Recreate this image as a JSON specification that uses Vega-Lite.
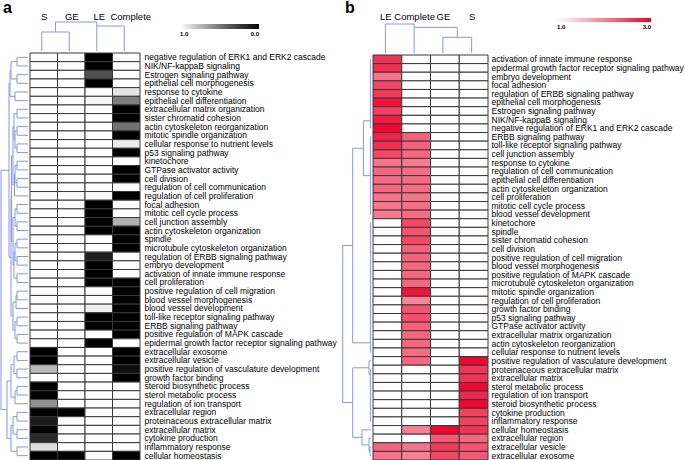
{
  "$schema": "https://vega.github.io/schema/vega-lite/v6.json",
  "padding": 0,
  "background": "white",
  "spacing": 5,
  "resolve": {"scale": {"color": "independent"}, "legend": {"color": "independent"}},
  "config": {
    "view": {"stroke": null},
    "font": "Liberation Sans",
    "concat": {"spacing": 0},
    "title": {"font": "Liberation Sans"},
    "axis": {"labelFont": "Liberation Sans"},
    "legend": {"labelFont": "Liberation Sans"}
  },
  "hconcat": [
    {
      "title": {"text": "a", "anchor": "start", "fontSize": 16, "fontWeight": "bold", "offset": -5, "dx": 3},
      "spacing": 0,
      "vconcat": [
        {
          "spacing": 0,
          "hconcat": [
            {"width": 28, "height": 30, "data": {"values": [{"k": 0}]}, "mark": {"type": "point", "opacity": 0}},
            {
              "width": 110, "height": 30,
              "data": {"values": [
                {"x1": 0.5, "x2": 0.5, "h1": 0, "h2": 19},
                {"x1": 1.5, "x2": 1.5, "h1": 0, "h2": 19},
                {"x1": 0.5, "x2": 1.5, "h1": 19, "h2": 19},
                {"x1": 1.0, "x2": 1.0, "h1": 19, "h2": 29},
                {"x1": 1.0, "x2": 2.5, "h1": 29, "h2": 29},
                {"x1": 2.5, "x2": 2.5, "h1": 0, "h2": 29},
                {"x1": 2.5, "x2": 3.5, "h1": 25, "h2": 25},
                {"x1": 3.5, "x2": 3.5, "h1": 0, "h2": 25}
              ]},
              "mark": {"type": "rule", "color": "#8896e4", "strokeWidth": 1},
              "encoding": {
                "x": {"field": "x1", "type": "quantitative", "scale": {"domain": [0, 4], "nice": false},
                  "axis": {"orient": "top", "values": [0.5, 1.5, 2.5, 3.5], "labelExpr": "['S','GE','LE','Complete'][floor(datum.value)]", "ticks": false, "domain": false, "grid": false, "title": null, "labelFontSize": 9.5, "labelPadding": 0, "labelColor": "#000000", "labelOverlap": false, "labelFlush": false,
                    "labelOffset": {"condition": {"test": "datum.value > 3", "value": 6}, "value": 2}}},
                "x2": {"field": "x2"},
                "y": {"field": "h1", "type": "quantitative", "scale": {"domain": [0, 30], "nice": false}, "axis": null},
                "y2": {"field": "h2"}
              }
            }
          ]
        },
        {
          "spacing": 0,
          "hconcat": [
            {
              "width": 28, "height": 407,
              "data": {"values": [
                {"h": 11, "ya": 1, "yb": 2, "ha": 0, "hb": 0},
                {"h": 11, "ya": 3, "yb": 4, "ha": 0, "hb": 0},
                {"h": 17, "ya": 1.5, "yb": 3.5, "ha": 11, "hb": 11},
                {"h": 13, "ya": 5, "yb": 6, "ha": 0, "hb": 0},
                {"h": 18, "ya": 2.5, "yb": 5.5, "ha": 17, "hb": 13},
                {"h": 11, "ya": 7, "yb": 8, "ha": 0, "hb": 0},
                {"h": 11, "ya": 9, "yb": 10, "ha": 0, "hb": 0},
                {"h": 11, "ya": 11, "yb": 12, "ha": 0, "hb": 0},
                {"h": 13, "ya": 9.5, "yb": 11.5, "ha": 11, "hb": 11},
                {"h": 14, "ya": 7.5, "yb": 10.5, "ha": 11, "hb": 13},
                {"h": 11, "ya": 13, "yb": 14, "ha": 0, "hb": 0},
                {"h": 11, "ya": 15, "yb": 16, "ha": 0, "hb": 0},
                {"h": 13, "ya": 13.5, "yb": 15.5, "ha": 11, "hb": 11},
                {"h": 13.5, "ya": 14.5, "yb": 17, "ha": 13, "hb": 0},
                {"h": 15, "ya": 9.0, "yb": 15.75, "ha": 14, "hb": 13.5},
                {"h": 11, "ya": 18, "yb": 19, "ha": 0, "hb": 0},
                {"h": 11, "ya": 20, "yb": 21, "ha": 0, "hb": 0},
                {"h": 13, "ya": 18.5, "yb": 20.5, "ha": 11, "hb": 11},
                {"h": 11, "ya": 22, "yb": 23, "ha": 0, "hb": 0},
                {"h": 11, "ya": 24, "yb": 25, "ha": 0, "hb": 0},
                {"h": 13, "ya": 22.5, "yb": 24.5, "ha": 11, "hb": 11},
                {"h": 11, "ya": 26, "yb": 27, "ha": 0, "hb": 0},
                {"h": 14, "ya": 23.5, "yb": 26.5, "ha": 13, "hb": 11},
                {"h": 15, "ya": 19.5, "yb": 25, "ha": 13, "hb": 14},
                {"h": 16.5, "ya": 12.375, "yb": 22.25, "ha": 15, "hb": 15},
                {"h": 11, "ya": 28, "yb": 29, "ha": 0, "hb": 0},
                {"h": 12, "ya": 28.5, "yb": 30, "ha": 11, "hb": 0},
                {"h": 11, "ya": 31, "yb": 32, "ha": 0, "hb": 0},
                {"h": 11, "ya": 33, "yb": 34, "ha": 0, "hb": 0},
                {"h": 13, "ya": 31.5, "yb": 33.5, "ha": 11, "hb": 11},
                {"h": 15, "ya": 29.25, "yb": 32.5, "ha": 12, "hb": 13},
                {"h": 17, "ya": 17.3125, "yb": 30.875, "ha": 16.5, "hb": 15},
                {"h": 19, "ya": 4.0, "yb": 24.09, "ha": 18, "hb": 17},
                {"h": 11, "ya": 35, "yb": 36, "ha": 0, "hb": 0},
                {"h": 11, "ya": 37, "yb": 38, "ha": 0, "hb": 0},
                {"h": 14, "ya": 35.5, "yb": 37.5, "ha": 11, "hb": 11},
                {"h": 11, "ya": 39, "yb": 40, "ha": 0, "hb": 0},
                {"h": 13, "ya": 39.5, "yb": 41, "ha": 11, "hb": 0},
                {"h": 17, "ya": 36.5, "yb": 40.25, "ha": 14, "hb": 13},
                {"h": 11, "ya": 42, "yb": 43, "ha": 0, "hb": 0},
                {"h": 11, "ya": 44, "yb": 45, "ha": 0, "hb": 0},
                {"h": 15, "ya": 42.5, "yb": 44.5, "ha": 11, "hb": 11},
                {"h": 11, "ya": 46, "yb": 47, "ha": 0, "hb": 0},
                {"h": 17, "ya": 43.5, "yb": 46.5, "ha": 15, "hb": 11},
                {"h": 21, "ya": 38.375, "yb": 45, "ha": 17, "hb": 17},
                {"h": 27, "ya": 14.05, "yb": 41.69, "ha": 19, "hb": 21}
              ]},
              "layer": [
                {"mark": {"type": "rule", "color": "#8896e4", "strokeWidth": 1},
                  "encoding": {
                    "x": {"field": "h", "type": "quantitative", "scale": {"domain": [0, 28], "reverse": true, "nice": false}, "axis": null},
                    "y": {"field": "ya", "type": "quantitative", "scale": {"domain": [0.5, 47.5], "reverse": true, "nice": false, "zero": false}, "axis": null},
                    "y2": {"field": "yb"}}},
                {"mark": {"type": "rule", "color": "#8896e4", "strokeWidth": 1},
                  "encoding": {
                    "x": {"field": "ha", "type": "quantitative"},
                    "x2": {"field": "h"},
                    "y": {"field": "ya", "type": "quantitative"}}},
                {"mark": {"type": "rule", "color": "#8896e4", "strokeWidth": 1},
                  "encoding": {
                    "x": {"field": "hb", "type": "quantitative"},
                    "x2": {"field": "h"},
                    "y": {"field": "yb", "type": "quantitative"}}}
              ]
            },
            {
              "width": 110, "height": 407,
              "data": {"values": [
                {"term": "negative regulation of ERK1 and ERK2 cascade", "S": 1, "GE": 1, "LE": 0, "Complete": 1},
                {"term": "NIK/NF-kappaB signaling", "S": 1, "GE": 1, "LE": 0, "Complete": 1},
                {"term": "Estrogen signaling pathway", "S": 1, "GE": 1, "LE": 0.33, "Complete": 1},
                {"term": "epithelial cell morphogenesis", "S": 1, "GE": 1, "LE": 0, "Complete": 1},
                {"term": "response to cytokine", "S": 1, "GE": 1, "LE": 1, "Complete": 0.91},
                {"term": "epithelial cell differentiation", "S": 1, "GE": 1, "LE": 0.97, "Complete": 0.53},
                {"term": "extracellular matrix organization", "S": 1, "GE": 1, "LE": 1, "Complete": 0},
                {"term": "sister chromatid cohesion", "S": 1, "GE": 1, "LE": 1, "Complete": 0},
                {"term": "actin cytoskeleton reorganization", "S": 1, "GE": 1, "LE": 1, "Complete": 0.48},
                {"term": "mitotic spindle organization", "S": 1, "GE": 1, "LE": 1, "Complete": 0},
                {"term": "cellular response to nutrient levels", "S": 1, "GE": 1, "LE": 1, "Complete": 0.93},
                {"term": "p53 signaling pathway", "S": 1, "GE": 1, "LE": 1, "Complete": 0},
                {"term": "kinetochore", "S": 1, "GE": 1, "LE": 1, "Complete": 1},
                {"term": "GTPase activator activity", "S": 1, "GE": 1, "LE": 1, "Complete": 0},
                {"term": "cell division", "S": 1, "GE": 1, "LE": 1, "Complete": 0},
                {"term": "regulation of cell communication", "S": 1, "GE": 1, "LE": 1, "Complete": 1},
                {"term": "regulation of cell proliferation", "S": 1, "GE": 1, "LE": 1, "Complete": 0},
                {"term": "focal adhesion", "S": 1, "GE": 1, "LE": 0, "Complete": 1},
                {"term": "mitotic cell cycle process", "S": 1, "GE": 1, "LE": 0, "Complete": 1},
                {"term": "cell junction assembly", "S": 1, "GE": 1, "LE": 0, "Complete": 0.72},
                {"term": "actin cytoskeleton organization", "S": 1, "GE": 1, "LE": 0, "Complete": 0},
                {"term": "spindle", "S": 1, "GE": 1, "LE": 1, "Complete": 0},
                {"term": "microtubule cytoskeleton organization", "S": 1, "GE": 1, "LE": 1, "Complete": 0},
                {"term": "regulation of ERBB signaling pathway", "S": 1, "GE": 1, "LE": 0.12, "Complete": 1},
                {"term": "embryo development", "S": 1, "GE": 1, "LE": 0, "Complete": 1},
                {"term": "activation of innate immune response", "S": 1, "GE": 1, "LE": 0, "Complete": 1},
                {"term": "cell proliferation", "S": 1, "GE": 1, "LE": 0, "Complete": 0},
                {"term": "positive regulation of cell migration", "S": 1, "GE": 1, "LE": 1, "Complete": 0},
                {"term": "blood vessel morphogenesis", "S": 1, "GE": 1, "LE": 1, "Complete": 0},
                {"term": "blood vessel development", "S": 1, "GE": 1, "LE": 0.94, "Complete": 0},
                {"term": "toll-like receptor signaling pathway", "S": 1, "GE": 1, "LE": 0, "Complete": 0},
                {"term": "ERBB signaling pathway", "S": 1, "GE": 1, "LE": 0, "Complete": 0},
                {"term": "positive regulation of MAPK cascade", "S": 1, "GE": 1, "LE": 1, "Complete": 0},
                {"term": "epidermal growth factor receptor signaling pathway", "S": 1, "GE": 1, "LE": 0, "Complete": 1},
                {"term": "extracellular exosome", "S": 0, "GE": 1, "LE": 1, "Complete": 0},
                {"term": "extracellular vesicle", "S": 0, "GE": 1, "LE": 1, "Complete": 0},
                {"term": "positive regulation of vasculature development", "S": 0.75, "GE": 1, "LE": 1, "Complete": 0.04},
                {"term": "growth factor binding", "S": 1, "GE": 1, "LE": 1, "Complete": 0},
                {"term": "steroid biosynthetic process", "S": 0, "GE": 1, "LE": 1, "Complete": 1},
                {"term": "sterol metabolic process", "S": 0, "GE": 1, "LE": 1, "Complete": 1},
                {"term": "regulation of ion transport", "S": 0.6, "GE": 1, "LE": 1, "Complete": 1},
                {"term": "extracellular region", "S": 0, "GE": 0, "LE": 1, "Complete": 1},
                {"term": "proteinaceous extracellular matrix", "S": 0.1, "GE": 1, "LE": 1, "Complete": 1},
                {"term": "extracellular matrix", "S": 0, "GE": 1, "LE": 1, "Complete": 1},
                {"term": "cytokine production", "S": 0.17, "GE": 1, "LE": 1, "Complete": 1},
                {"term": "inflammatory response", "S": 0.88, "GE": 1, "LE": 1, "Complete": 1},
                {"term": "cellular homeostasis", "S": 0, "GE": 0, "LE": 1, "Complete": 0}
              ]},
              "transform": [{"fold": ["S", "GE", "LE", "Complete"], "as": ["col", "v"]}],
              "mark": {"type": "rect", "stroke": "#383838", "strokeWidth": 1},
              "encoding": {
                "x": {"field": "col", "type": "nominal", "sort": ["S", "GE", "LE", "Complete"], "axis": null},
                "y": {"field": "term", "type": "nominal", "sort": null,
                  "axis": {"orient": "right", "title": null, "ticks": false, "domain": false, "labelFontSize": 8.5, "labelPadding": 4, "labelColor": "#000000", "labelOverlap": false, "labelLimit": 0, "labelBound": false}},
                "color": {"field": "v", "type": "quantitative",
                  "scale": {"domain": [1, 0], "range": ["#ffffff", "#000000"], "zero": false},
                  "legend": {"orient": "none", "legendX": 180, "legendY": 3, "direction": "horizontal", "title": null, "gradientLength": 79, "gradientThickness": 5, "values": [1, 0], "format": ".1f", "labelFontSize": 6, "labelFontWeight": "bold", "labelOffset": 2, "gradientStrokeWidth": 0}}
              }
            }
          ]
        }
      ]
    },
    {
      "title": {"text": "b", "anchor": "start", "fontSize": 16, "fontWeight": "bold", "offset": -5, "dx": 3},
      "spacing": 0,
      "vconcat": [
        {
          "spacing": 0,
          "hconcat": [
            {"width": 29, "height": 32, "data": {"values": [{"k": 0}]}, "mark": {"type": "point", "opacity": 0}},
            {
              "width": 115, "height": 32,
              "data": {"values": [
                {"x1": 0.5, "x2": 0.5, "h1": 0, "h2": 29},
                {"x1": 0.5, "x2": 1.5, "h1": 29, "h2": 29},
                {"x1": 1.5, "x2": 1.5, "h1": 0, "h2": 29},
                {"x1": 1.5, "x2": 3.0, "h1": 25.7, "h2": 25.7},
                {"x1": 3.0, "x2": 3.0, "h1": 15.7, "h2": 25.7},
                {"x1": 2.5, "x2": 3.5, "h1": 15.7, "h2": 15.7},
                {"x1": 2.5, "x2": 2.5, "h1": 0, "h2": 15.7},
                {"x1": 3.5, "x2": 3.5, "h1": 0, "h2": 15.7}
              ]},
              "mark": {"type": "rule", "color": "#8896e4", "strokeWidth": 1},
              "encoding": {
                "x": {"field": "x1", "type": "quantitative", "scale": {"domain": [0, 4], "nice": false},
                  "axis": {"orient": "top", "values": [0.5, 1.5, 2.5, 3.5], "labelExpr": "['LE','Complete','GE','S'][floor(datum.value)]", "ticks": false, "domain": false, "grid": false, "title": null, "labelFontSize": 9.5, "labelPadding": 0, "labelColor": "#000000", "labelOverlap": false, "labelFlush": false}},
                "x2": {"field": "x2"},
                "y": {"field": "h1", "type": "quantitative", "scale": {"domain": [0, 32], "nice": false}, "axis": null},
                "y2": {"field": "h2"}
              }
            }
          ]
        },
        {
          "spacing": 0,
          "hconcat": [
            {
              "width": 29, "height": 405,
              "data": {"values": [
                {"h": 0.6, "ya": 1, "yb": 9, "ha": 0, "hb": 0},
                {"h": 0.6, "ya": 10, "yb": 19, "ha": 0, "hb": 0},
                {"h": 0.6, "ya": 20, "yb": 35, "ha": 0, "hb": 0},
                {"h": 0.6, "ya": 37, "yb": 43, "ha": 0, "hb": 0},
                {"h": 2, "ya": 36, "yb": 37.6, "ha": 0, "hb": 0.6},
                {"h": 1, "ya": 46, "yb": 47, "ha": 0, "hb": 0},
                {"h": 2, "ya": 45, "yb": 46.5, "ha": 0, "hb": 1},
                {"h": 9, "ya": 44, "yb": 45.75, "ha": 0, "hb": 2},
                {"h": 7.6, "ya": 8.14, "yb": 14.5, "ha": 0.6, "hb": 0.6},
                {"h": 18.3, "ya": 11.32, "yb": 33.9, "ha": 7.6, "hb": 0.6},
                {"h": 18.3, "ya": 36.8, "yb": 44.875, "ha": 2, "hb": 9},
                {"h": 28.3, "ya": 22.61, "yb": 40.84, "ha": 18.3, "hb": 18.3}
              ]},
              "layer": [
                {"mark": {"type": "rule", "color": "#8896e4", "strokeWidth": 1},
                  "encoding": {
                    "x": {"field": "h", "type": "quantitative", "scale": {"domain": [0, 29], "reverse": true, "nice": false}, "axis": null},
                    "y": {"field": "ya", "type": "quantitative", "scale": {"domain": [0.5, 47.5], "reverse": true, "nice": false, "zero": false}, "axis": null},
                    "y2": {"field": "yb"}}},
                {"mark": {"type": "rule", "color": "#8896e4", "strokeWidth": 1},
                  "encoding": {
                    "x": {"field": "ha", "type": "quantitative"},
                    "x2": {"field": "h"},
                    "y": {"field": "ya", "type": "quantitative"}}},
                {"mark": {"type": "rule", "color": "#8896e4", "strokeWidth": 1},
                  "encoding": {
                    "x": {"field": "hb", "type": "quantitative"},
                    "x2": {"field": "h"},
                    "y": {"field": "yb", "type": "quantitative"}}}
              ]
            },
            {
              "width": 115, "height": 405,
              "data": {"values": [
                {"term": "activation of innate immune response", "LE": 2.6, "Complete": 1, "GE": 1, "S": 1},
                {"term": "epidermal growth factor receptor signaling pathway", "LE": 2.65, "Complete": 1, "GE": 1, "S": 1},
                {"term": "embryo development", "LE": 2.1, "Complete": 1, "GE": 1, "S": 1},
                {"term": "focal adhesion", "LE": 2.45, "Complete": 1, "GE": 1, "S": 1},
                {"term": "regulation of ERBB signaling pathway", "LE": 2.55, "Complete": 1, "GE": 1, "S": 1},
                {"term": "epithelial cell morphogenesis", "LE": 2.85, "Complete": 1, "GE": 1, "S": 1},
                {"term": "Estrogen signaling pathway", "LE": 2.5, "Complete": 1, "GE": 1, "S": 1},
                {"term": "NIK/NF-kappaB signaling", "LE": 2.8, "Complete": 1, "GE": 1, "S": 1},
                {"term": "negative regulation of ERK1 and ERK2 cascade", "LE": 2.95, "Complete": 1, "GE": 1, "S": 1},
                {"term": "ERBB signaling pathway", "LE": 2.75, "Complete": 2.25, "GE": 1, "S": 1},
                {"term": "toll-like receptor signaling pathway", "LE": 2.65, "Complete": 2.25, "GE": 1, "S": 1},
                {"term": "cell junction assembly", "LE": 2.45, "Complete": 2.2, "GE": 1, "S": 1},
                {"term": "response to cytokine", "LE": 2.1, "Complete": 2.05, "GE": 1, "S": 1},
                {"term": "regulation of cell communication", "LE": 2.2, "Complete": 2.15, "GE": 1, "S": 1},
                {"term": "epithelial cell differentiation", "LE": 2.15, "Complete": 2.15, "GE": 1, "S": 1},
                {"term": "actin cytoskeleton organization", "LE": 2.2, "Complete": 2.15, "GE": 1, "S": 1},
                {"term": "cell proliferation", "LE": 2.1, "Complete": 2.1, "GE": 1, "S": 1},
                {"term": "mitotic cell cycle process", "LE": 2.1, "Complete": 2.15, "GE": 1, "S": 1},
                {"term": "blood vessel development", "LE": 2.05, "Complete": 2.15, "GE": 1, "S": 1},
                {"term": "kinetochore", "LE": 1, "Complete": 2.45, "GE": 1, "S": 1},
                {"term": "spindle", "LE": 1, "Complete": 2.35, "GE": 1, "S": 1},
                {"term": "sister chromatid cohesion", "LE": 1, "Complete": 2.45, "GE": 1, "S": 1},
                {"term": "cell division", "LE": 1, "Complete": 2.25, "GE": 1, "S": 1},
                {"term": "positive regulation of cell migration", "LE": 1, "Complete": 2.25, "GE": 1, "S": 1},
                {"term": "blood vessel morphogenesis", "LE": 1, "Complete": 2.2, "GE": 1, "S": 1},
                {"term": "positive regulation of MAPK cascade", "LE": 1, "Complete": 2.2, "GE": 1, "S": 1},
                {"term": "microtubule cytoskeleton organization", "LE": 1, "Complete": 2.2, "GE": 1, "S": 1},
                {"term": "mitotic spindle organization", "LE": 1, "Complete": 2.85, "GE": 1, "S": 1},
                {"term": "regulation of cell proliferation", "LE": 1, "Complete": 1.95, "GE": 1, "S": 1},
                {"term": "growth factor binding", "LE": 1, "Complete": 2.35, "GE": 1, "S": 1},
                {"term": "p53 signaling pathway", "LE": 1, "Complete": 2.4, "GE": 1, "S": 1},
                {"term": "GTPase activator activity", "LE": 1, "Complete": 2.25, "GE": 1, "S": 1},
                {"term": "extracellular matrix organization", "LE": 1, "Complete": 2.2, "GE": 1, "S": 1},
                {"term": "actin cytoskeleton reorganization", "LE": 1, "Complete": 2.2, "GE": 1, "S": 1},
                {"term": "cellular response to nutrient levels", "LE": 1, "Complete": 2.15, "GE": 1, "S": 1},
                {"term": "positive regulation of vasculature development", "LE": 1, "Complete": 2.2, "GE": 1, "S": 2.95},
                {"term": "proteinaceous extracellular matrix", "LE": 1, "Complete": 1, "GE": 1, "S": 2.6},
                {"term": "extracellular matrix", "LE": 1, "Complete": 1, "GE": 1, "S": 2.6},
                {"term": "sterol metabolic process", "LE": 1, "Complete": 1, "GE": 1, "S": 2.95},
                {"term": "regulation of ion transport", "LE": 1, "Complete": 1, "GE": 1, "S": 2.7},
                {"term": "steroid biosynthetic process", "LE": 1, "Complete": 1, "GE": 1, "S": 2.95},
                {"term": "cytokine production", "LE": 1, "Complete": 1, "GE": 1, "S": 2.5},
                {"term": "inflammatory response", "LE": 1, "Complete": 1, "GE": 1, "S": 2.5},
                {"term": "cellular homeostasis", "LE": 1, "Complete": 2.0, "GE": 2.95, "S": 2.6},
                {"term": "extracellular region", "LE": 1, "Complete": 1, "GE": 2.3, "S": 2.2},
                {"term": "extracellular vesicle", "LE": 2.2, "Complete": 2.1, "GE": 2.55, "S": 2.35},
                {"term": "extracellular exosome", "LE": 2.1, "Complete": 2.0, "GE": 2.45, "S": 2.3}
              ]},
              "transform": [{"fold": ["LE", "Complete", "GE", "S"], "as": ["col", "v"]}],
              "mark": {"type": "rect", "stroke": "#383838", "strokeWidth": 1},
              "encoding": {
                "x": {"field": "col", "type": "nominal", "sort": ["LE", "Complete", "GE", "S"], "axis": null},
                "y": {"field": "term", "type": "nominal", "sort": null,
                  "axis": {"orient": "right", "title": null, "ticks": false, "domain": false, "labelFontSize": 8.5, "labelPadding": 3, "labelColor": "#000000", "labelOverlap": false, "labelLimit": 0, "labelBound": false}},
                "color": {"field": "v", "type": "quantitative",
                  "scale": {"domain": [1, 3], "range": ["#ffffff", "#f0002a"], "interpolate": "rgb", "zero": false},
                  "legend": {"orient": "none", "legendX": 215, "legendY": -3, "direction": "horizontal", "title": null, "gradientLength": 94, "gradientThickness": 4, "values": [1, 3], "format": ".1f", "labelFontSize": 6, "labelFontWeight": "bold", "labelOffset": 2, "gradientStrokeWidth": 0}}
              }
            }
          ]
        }
      ]
    }
  ]
}
